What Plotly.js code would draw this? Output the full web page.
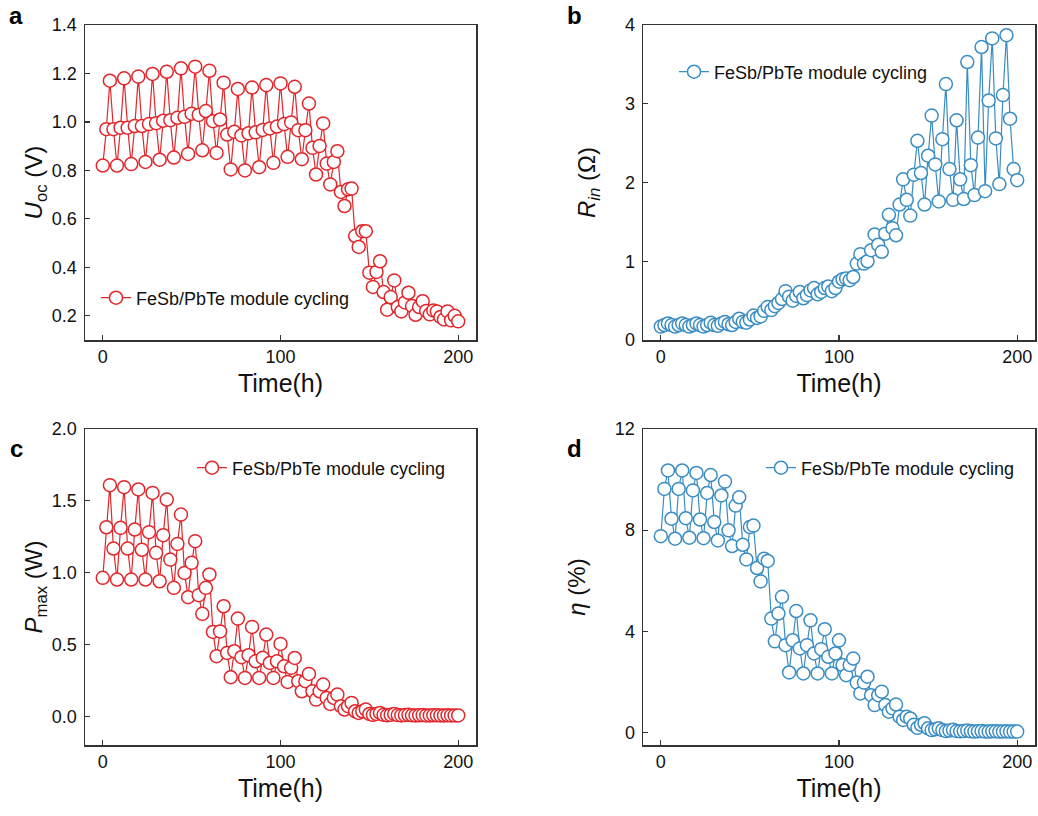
<!DOCTYPE html>
<html>
<head>
<meta charset="utf-8">
<script src="https://cdn.plot.ly/plotly-3.0.1.min.js"></script>
<style>html,body{margin:0;padding:0;background:#fff;}#chart{width:1038px;height:816px;}</style>
</head>
<body>
<div id="chart"></div>
<script>
// Time axis (h)
const timeH = [0,2,4,6,8,10,12,14,16,18,20,22,24,26,28,30,32,34,36,38,40,42,44,46,48,50,52,54,56,58,60,62,64,66,68,70,72,74,76,78,80,82,84,86,88,90,92,94,96,98,100,102,104,106,108,110,112,114,116,118,120,122,124,126,128,130,132,134,136,138,140,142,144,146,148,150,152,154,156,158,160,162,164,166,168,170,172,174,176,178,180,182,184,186,188,190,192,194,196,198,200];

// (a) open-circuit voltage U_oc (V)
const uocV = [0.82,0.97,1.17,0.97,0.82,0.976,1.18,0.976,0.826,0.983,1.187,0.983,0.835,0.991,1.198,0.995,0.844,1.005,1.207,1.007,0.853,1.017,1.221,1.021,0.868,1.034,1.228,1.029,0.883,1.045,1.211,1.003,0.872,1.010,1.162,0.948,0.804,0.959,1.136,0.944,0.800,0.953,1.142,0.957,0.813,0.967,1.152,0.973,0.831,0.981,1.159,0.991,0.856,0.998,1.145,0.966,0.846,0.966,1.076,0.893,0.783,0.901,0.994,0.828,0.742,0.835,0.879,0.711,0.653,0.722,0.725,0.529,0.484,0.549,0.549,0.378,0.319,0.381,0.425,0.298,0.225,0.277,0.346,0.236,0.218,0.255,0.295,0.240,0.204,0.236,0.260,0.220,0.206,0.222,0.218,0.195,0.185,0.218,0.181,0.200,0.177];

// (b) internal resistance R_in (Ohm)
const rinOhm = [0.17,0.19,0.21,0.19,0.17,0.19,0.21,0.19,0.17,0.19,0.21,0.19,0.17,0.19,0.22,0.19,0.18,0.21,0.23,0.20,0.19,0.23,0.27,0.23,0.22,0.26,0.31,0.28,0.30,0.37,0.42,0.38,0.43,0.47,0.52,0.62,0.55,0.50,0.56,0.61,0.53,0.57,0.63,0.66,0.58,0.61,0.66,0.68,0.62,0.66,0.74,0.77,0.78,0.76,0.80,0.97,1.09,0.97,1.00,1.14,1.34,1.21,1.12,1.35,1.59,1.42,1.33,1.72,2.04,1.78,1.58,2.10,2.53,2.12,1.72,2.34,2.85,2.23,1.76,2.55,3.25,2.17,1.78,2.79,2.04,1.79,3.53,2.22,1.84,2.57,3.72,1.89,3.04,3.83,2.56,1.98,3.11,3.87,2.81,2.17,2.03];

// (c) maximum output power P_max (W)
const pmaxW = [0.964,1.316,1.609,1.168,0.952,1.312,1.595,1.168,0.952,1.300,1.579,1.159,0.952,1.282,1.555,1.138,0.940,1.261,1.509,1.091,0.894,1.200,1.404,0.998,0.829,1.068,1.219,0.843,0.713,0.894,0.987,0.587,0.418,0.591,0.766,0.441,0.272,0.453,0.680,0.411,0.267,0.425,0.622,0.383,0.267,0.407,0.569,0.371,0.267,0.383,0.504,0.348,0.239,0.337,0.406,0.244,0.174,0.244,0.295,0.174,0.116,0.174,0.221,0.128,0.086,0.128,0.151,0.070,0.047,0.070,0.093,0.035,0.023,0.035,0.047,0.016,0.010,0.016,0.023,0.010,0.007,0.010,0.016,0.008,0.006,0.008,0.010,0.007,0.006,0.007,0.008,0.006,0.006,0.007,0.007,0.006,0.006,0.007,0.006,0.006,0.006];

// (d) conversion efficiency eta (%)
const etaPct = [7.76,9.63,10.36,8.45,7.66,9.63,10.36,8.47,7.70,9.57,10.26,8.42,7.68,9.47,10.18,8.32,7.59,9.37,9.92,7.99,7.37,8.97,9.30,7.42,6.84,8.12,8.18,6.50,5.97,6.87,6.78,4.50,3.60,4.70,5.36,3.45,2.37,3.64,4.80,3.32,2.33,3.45,4.43,3.12,2.33,3.29,4.08,2.99,2.33,3.12,3.64,2.66,2.26,2.66,2.92,1.97,1.54,1.97,2.20,1.47,1.08,1.47,1.61,1.08,0.82,0.95,1.10,0.62,0.49,0.62,0.55,0.30,0.18,0.30,0.36,0.16,0.09,0.12,0.16,0.09,0.05,0.07,0.10,0.05,0.04,0.05,0.07,0.04,0.03,0.04,0.05,0.03,0.03,0.04,0.04,0.03,0.03,0.04,0.03,0.03,0.03];

const seriesName = 'FeSb/PbTe module cycling';
const xTicks = [0, 100, 200];

const RED = '#e2262b';
const BLUE = '#3a8dc3';
const W = 1038, H = 816;
const FONT = 'Liberation Sans, Arial, sans-serif';

function px(x){ return x / W; }
function py(y){ return 1 - y / H; }

function trace(y, color, xa, ya, lg){
  return {
    x: timeH, y: y, type: 'scatter', mode: 'lines+markers', name: seriesName,
    xaxis: xa, yaxis: ya, legend: lg,
    line: {color: color, width: 1.2},
    marker: {symbol: 'circle', size: 13, color: '#ffffff', line: {color: color, width: 1.5}}
  };
}

const data = [
  trace(uocV, RED, 'x', 'y', 'legend'),
  trace(rinOhm, BLUE, 'x2', 'y2', 'legend2'),
  trace(pmaxW, RED, 'x3', 'y3', 'legend3'),
  trace(etaPct, BLUE, 'x4', 'y4', 'legend4')
];

function xax(dom, anchor){
  return {
    domain: dom, anchor: anchor, range: [-10, 210], tickvals: xTicks,
    showline: true, mirror: true, linecolor: '#333', linewidth: 1.5,
    ticks: 'inside', ticklen: 5, tickwidth: 1.2, tickcolor: '#333',
    showgrid: false, zeroline: false, automargin: false,
    tickfont: {family: FONT, size: 18, color: '#111'},
    title: {text: 'Time(h)', font: {family: FONT, size: 25, color: '#111'}, standoff: 8}
  };
}
function yax(dom, anchor, range, tickvals, fmt, title, standoff){
  return {
    domain: dom, anchor: anchor, range: range, tickvals: tickvals, tickformat: fmt,
    showline: true, mirror: true, linecolor: '#333', linewidth: 1.5,
    ticks: 'inside', ticklen: 5, tickwidth: 1.2, tickcolor: '#333',
    showgrid: false, zeroline: false, automargin: false,
    ticklabelstandoff: 3,
    tickfont: {family: FONT, size: 18, color: '#111'},
    title: {text: title, font: {family: FONT, size: 24, color: '#111'}, standoff: standoff}
  };
}

const xL = [px(85), px(476)], xR = [px(643), px(1035)];
const yT = [py(340), py(25)], yB = [py(745), py(429)];

function leg(x, y){
  return {x: px(x), y: py(y), xanchor: 'left', yanchor: 'middle', bgcolor: 'rgba(0,0,0,0)',
          borderwidth: 0, font: {family: FONT, size: 18, color: '#111'}};
}
function letter(t, x, y){
  return {text: '<b>' + t + '</b>', x: px(x), y: py(y), xref: 'paper', yref: 'paper',
          showarrow: false, xanchor: 'center', yanchor: 'middle',
          font: {family: FONT, size: 24, color: '#000'}};
}

const layout = {
  width: W, height: H, margin: {l: 0, r: 0, t: 0, b: 0},
  paper_bgcolor: '#fff', plot_bgcolor: '#fff', showlegend: true,
  font: {family: FONT, color: '#111'},
  xaxis: xax(xL, 'y'),
  yaxis: yax(yT, 'x', [0.1, 1.4], [0.2,0.4,0.6,0.8,1.0,1.2,1.4], '.1f', '<i>U</i><sub>oc</sub> (V)', 2),
  xaxis2: xax(xR, 'y2'),
  yaxis2: yax(yT, 'x2', [0, 4], [0,1,2,3,4], 'd', '<i>R<sub>in</sub></i> (Ω)', 22),
  xaxis3: xax(xL, 'y3'),
  yaxis3: yax(yB, 'x3', [-0.2, 2.0], [0,0.5,1.0,1.5,2.0], '.1f', '<i>P</i><sub>max</sub> (W)', 2),
  xaxis4: xax(xR, 'y4'),
  yaxis4: yax(yB, 'x4', [-0.5, 12], [0,4,8,12], 'd', '<i>η</i> (%)', 22),
  legend: leg(96, 298),
  legend2: leg(674, 72),
  legend3: leg(192, 468),
  legend4: leg(761, 468),
  annotations: [letter('a', 16, 15), letter('b', 574, 15), letter('c', 16, 448), letter('d', 574, 448)]
};

Plotly.newPlot('chart', data, layout, {staticPlot: true, displayModeBar: false});
</script>
</body>
</html>
